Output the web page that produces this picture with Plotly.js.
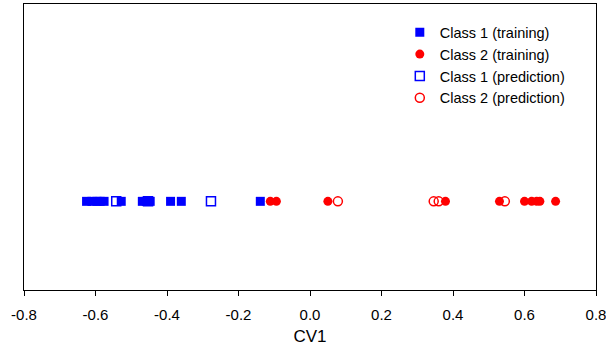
<!DOCTYPE html>
<html>
<head>
<meta charset="utf-8">
<script src="https://cdn.plot.ly/plotly-3.0.1.min.js"></script>
<style>html,body{margin:0;padding:0;background:#fff;}#chart{width:606px;height:352px;}</style>
</head>
<body>
<div id="chart"></div>
<script>
const class1Train = [-0.625, -0.610, -0.596, -0.587, -0.576, -0.528, -0.469, -0.458, -0.447, -0.390, -0.360, -0.139];
const class2Train = [-0.111, -0.094, 0.050, 0.379, 0.530, 0.600, 0.620, 0.634, 0.643, 0.687];
const class1Pred = [-0.542, -0.453, -0.277];
const class2Pred = [0.078, 0.346, 0.360, 0.545];
const rowLevel = 0.31;
const tickVals = [-0.8, -0.6, -0.4, -0.2, 0, 0.2, 0.4, 0.6, 0.8];
const tickText = ['-0.8', '-0.6', '-0.4', '-0.2', '0.0', '0.2', '0.4', '0.6', '0.8'];

const ys = a => a.map(() => rowLevel);
const traces = [
  {x: class1Train, y: ys(class1Train), name: 'Class 1 (training)', mode: 'markers', type: 'scatter',
   marker: {symbol: 'square', size: 9, color: '#0000ff'}},
  {x: class2Train, y: ys(class2Train), name: 'Class 2 (training)', mode: 'markers', type: 'scatter',
   marker: {symbol: 'circle', size: 9, color: '#ff0000'}},
  {x: class1Pred, y: ys(class1Pred), name: 'Class 1 (prediction)', mode: 'markers', type: 'scatter',
   marker: {symbol: 'square-open', size: 9, color: '#0000ff', line: {width: 1.5}}},
  {x: class2Pred, y: ys(class2Pred), name: 'Class 2 (prediction)', mode: 'markers', type: 'scatter',
   marker: {symbol: 'circle-open', size: 9, color: '#ff0000', line: {width: 1.5}}}
];

const layout = {
  width: 606, height: 352,
  margin: {l: 24, r: 10, t: 4, b: 62},
  paper_bgcolor: '#fff', plot_bgcolor: '#fff',
  font: {family: 'Liberation Sans, Arial, sans-serif', size: 15, color: '#000'},
  showlegend: true,
  legend: {x: 0.657, y: 0.957, xanchor: 'left', yanchor: 'top', bgcolor: 'rgba(0,0,0,0)',
           font: {size: 14.5}, tracegroupgap: 0},
  xaxis: {range: [-0.8, 0.8], tickvals: tickVals, ticktext: tickText, ticks: 'outside', ticklen: 5,
          tickcolor: '#000', showgrid: false, zeroline: false, showline: true, linecolor: '#000',
          linewidth: 1, mirror: true, title: {text: 'CV1', font: {size: 17}, standoff: 8},
          tickfont: {size: 15}, ticklabelstandoff: 6, ticklabeloverflow: 'allow', automargin: false},
  yaxis: {range: [0, 1], showticklabels: false, ticks: '', showgrid: false, zeroline: false,
          showline: true, linecolor: '#000', linewidth: 1, mirror: true}
};
Plotly.newPlot('chart', traces, layout, {displayModeBar: false, staticPlot: true});
</script>
</body>
</html>
